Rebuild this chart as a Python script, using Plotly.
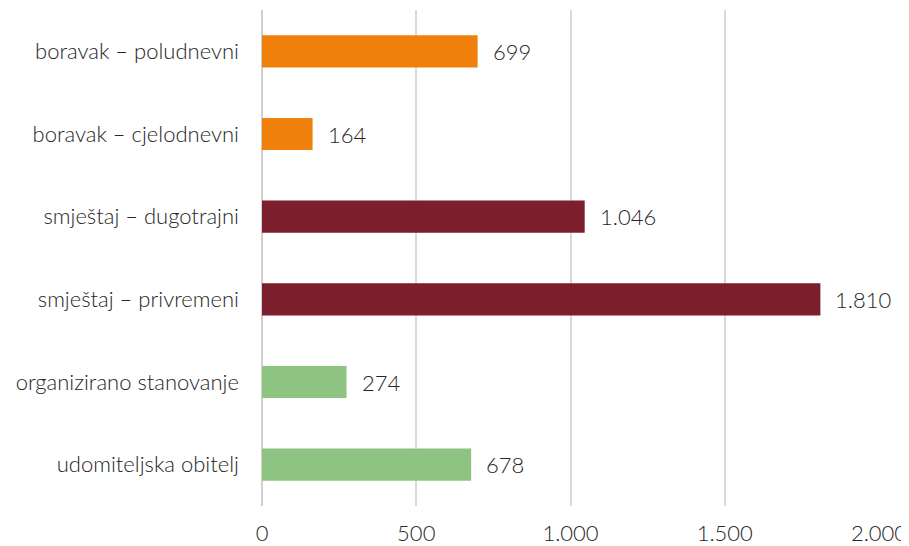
import plotly.graph_objects as go

CATEGORIES = [
    "boravak – poludnevni",
    "boravak – cjelodnevni",
    "smještaj – dugotrajni",
    "smještaj – privremeni",
    "organizirano stanovanje",
    "udomiteljska obitelj",
]
VALUES = [699, 164, 1046, 1810, 274, 678]
GROUP_COLORS = ["#F0800C", "#F0800C", "#7A1F2B", "#7A1F2B", "#8FC382", "#8FC382"]
X_TICKS = [0, 500, 1000, 1500, 2000]

FONT = "Lato, 'Open Sans', sans-serif"
TEXT_COLOR = "#262626"
FONT_SIZE = 22

fig = go.Figure(
    go.Bar(
        x=VALUES,
        y=CATEGORIES,
        orientation="h",
        marker=dict(color=GROUP_COLORS, line_width=0),
        width=0.39,
    )
)

for cat, val in zip(CATEGORIES, VALUES):
    fig.add_annotation(
        x=val,
        y=cat,
        text=f"{val:,}".replace(",", "."),
        showarrow=False,
        xanchor="left",
        xshift=13,
        font=dict(size=FONT_SIZE, color=TEXT_COLOR, family=FONT, weight=300),
    )

# page body has an 8px margin, so the figure is sized/placed to land the
# plot area at x 262..879, y 10..506 in the window
fig.update_layout(
    width=901,
    height=538,
    margin=dict(l=254, r=30, t=2, b=40, autoexpand=False),
    paper_bgcolor="#FFFFFF",
    plot_bgcolor="#FFFFFF",
    separators=",.",
    showlegend=False,
    font=dict(family=FONT, size=FONT_SIZE, color=TEXT_COLOR, weight=300),
)
fig.update_xaxes(
    range=[0, 2000],
    tickvals=X_TICKS,
    tickformat=",",
    showgrid=True,
    gridcolor="#D9D9D9",
    gridwidth=1.5,
    zeroline=True,
    zerolinecolor="#D0D0D0",
    zerolinewidth=2,
    showline=False,
    ticks="",
    ticklabelstandoff=12,
    automargin=False,
)
fig.update_yaxes(
    autorange="reversed",
    showgrid=False,
    showline=False,
    ticks="",
    ticklabelstandoff=22,
    automargin=False,
)

fig.write_html("out.html")
